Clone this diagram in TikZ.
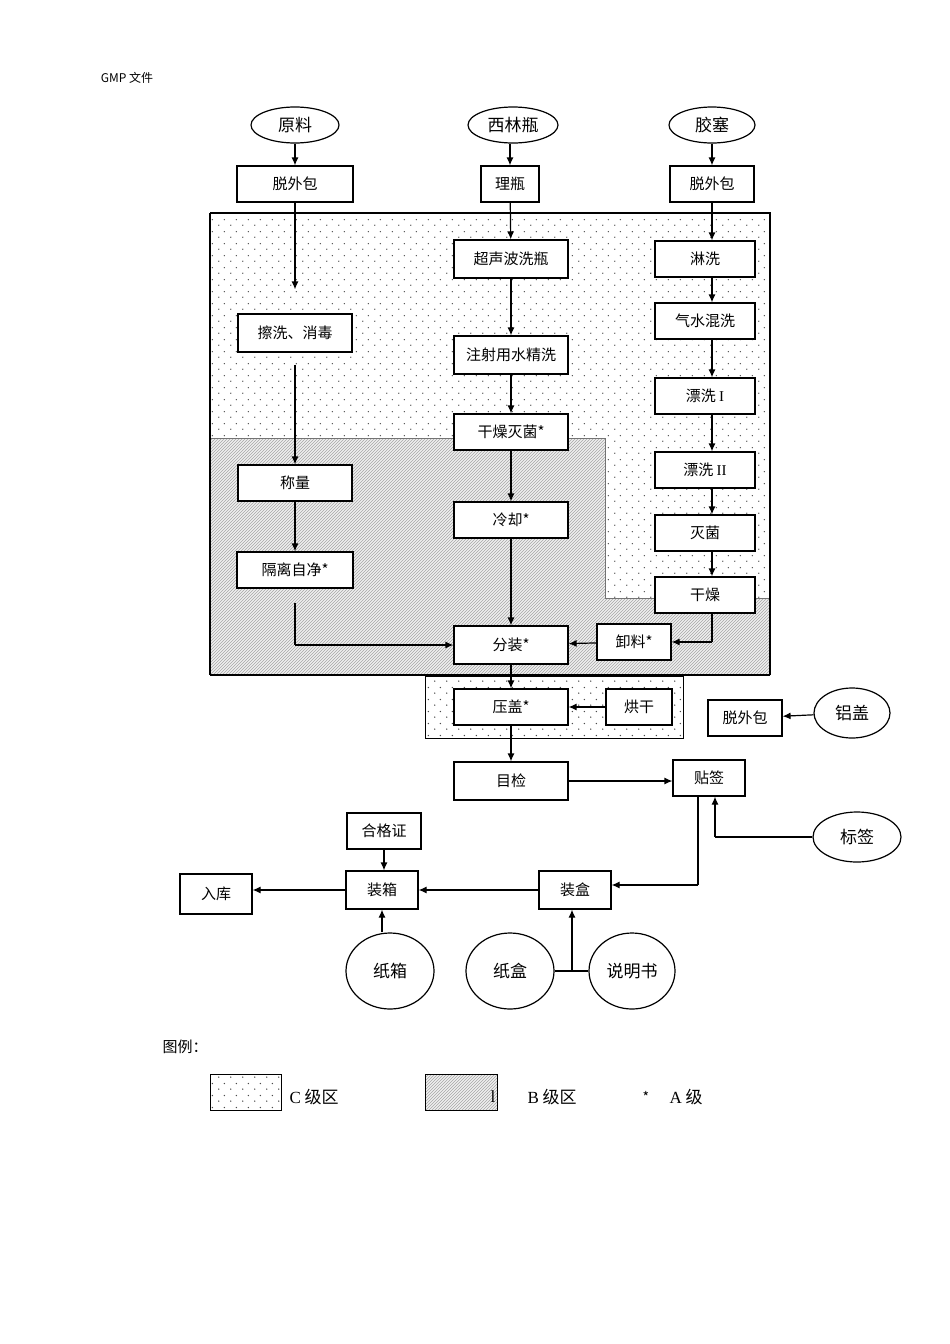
\documentclass[tikz,border=0pt]{standalone}
\usepackage{fontspec}
\setmainfont{Noto Sans CJK SC}
\newfontfamily\lat{Liberation Serif}
\usetikzlibrary{shapes.geometric,patterns,arrows.meta}
\pgfdeclarepatternformonly{sdots}{\pgfpointorigin}{\pgfpoint{12pt}{12pt}}{\pgfpoint{12pt}{12pt}}{%
\pgfpathcircle{\pgfpoint{3pt}{3pt}}{0.8pt}\pgfpathcircle{\pgfpoint{9pt}{9pt}}{0.8pt}\pgfusepath{fill}}
\begin{document}
\begin{tikzpicture}[x=1pt,y=-1pt,
 box/.style={draw,line width=1.2pt,fill=white,minimum height=36pt,inner sep=1pt,font=\fontsize{15}{17}\selectfont},
 ell/.style={draw,line width=1.2pt,ellipse,fill=white,font=\fontsize{17}{19}\selectfont},
 ar/.style={-{Latex[length=8pt,width=7pt]},line width=1.2pt},
 ln/.style={line width=1.2pt},
 cz/.style={pattern=sdots,pattern color=black!70},
 bz/.style={pattern=north east lines,pattern color=black!35}]
\useasboundingbox (0,0) rectangle (950,1344);
% zones
\fill[black!6] (210,438) rectangle (770,675);
\fill[bz] (210,438) rectangle (770,675);
\fill[white] (210,213) rectangle (770,438) (605,438) rectangle (770,598);
\fill[cz] (210,213) rectangle (770,438) (605,438) rectangle (770,598);
\draw[black!55,line width=1pt] (210,438) -- (605,438) -- (605,598) -- (770,598);
\draw[line width=1.2pt] (210,213) -- (770,213) -- (770,675) (210,213) -- (210,675);
\draw[line width=2pt] (210,675) -- (770,675);
\fill[cz] (425,676) rectangle (683,738);
\draw (425,676) rectangle (683,738);
% header
\node[font=\fontsize{12}{14}\selectfont] (hdr) at (127,78) {GMP 文件};
% top
\node[ell,minimum width=88pt,minimum height=36pt] (yl) at (295,125) {原料};
\node[ell,minimum width=90pt,minimum height=36pt] (xlp) at (513,125) {西林瓶};
\node[ell,minimum width=86pt,minimum height=36pt] (js) at (712,125) {胶塞};
\node[box,minimum width=116pt] (t1) at (295,184) {脱外包};
\node[box,minimum width=58pt] (t2) at (510,184) {理瓶};
\node[box,minimum width=84pt] (t3) at (712,184) {脱外包};
% middle column
\node[box,minimum width=114pt,minimum height=38pt] (c1) at (511,259) {超声波洗瓶};
\node[box,minimum width=114pt,minimum height=38pt] (c2) at (511,355) {注射用水精洗};
\node[box,minimum width=114pt] (c3) at (511,432) {干燥灭菌*};
\node[box,minimum width=114pt] (c4) at (511,520) {冷却*};
\node[box,minimum width=114pt,minimum height=38pt] (c5) at (511,645) {分装*};
\node[box,minimum width=114pt,minimum height=36pt] (c6) at (511,707) {压盖*};
\node[box,minimum width=114pt,minimum height=38pt] (c7) at (511,781) {目检};
% left column
\node[box,minimum width=114pt,minimum height=38pt] (l1) at (295,333) {擦洗、消毒};
\node[box,minimum width=114pt] (l2) at (295,483) {称量};
\node[box,minimum width=116pt] (l3) at (295,570) {隔离自净*};
% right column
\node[box,minimum width=100pt] (r1) at (705,259) {淋洗};
\node[box,minimum width=100pt] (r2) at (705,321) {气水混洗};
\node[box,minimum width=100pt] (r3) at (705,396) {漂洗 {\lat I}};
\node[box,minimum width=100pt] (r4) at (705,470) {漂洗 {\lat II}};
\node[box,minimum width=100pt] (r5) at (705,533) {灭菌};
\node[box,minimum width=100pt] (r6) at (705,595) {干燥};
\node[box,minimum width=74pt] (xl) at (634,642) {卸料*};
\node[box,minimum width=66pt] (hg) at (639,707) {烘干};
\node[box,minimum width=74pt] (t4) at (745,718) {脱外包};
\node[ell,minimum width=76pt,minimum height=50pt] (lg) at (852,713) {铝盖};
\node[box,minimum width=72pt] (tq) at (709,778) {贴签};
\node[ell,minimum width=88pt,minimum height=50pt] (bq) at (857,837) {标签};
\node[box,minimum width=74pt] (hgz) at (384,831) {合格证};
\node[box,minimum width=72pt,minimum height=38pt] (zx) at (382,890) {装箱};
\node[box,minimum width=72pt,minimum height=40pt] (rk) at (216,894) {入库};
\node[box,minimum width=72pt,minimum height=38pt] (zh) at (575,890) {装盒};
\node[ell,minimum width=88pt,minimum height=76pt] (zxx) at (390,971) {纸箱};
\node[ell,minimum width=88pt,minimum height=76pt] (zhh) at (510,971) {纸盒};
\node[ell,minimum width=86pt,minimum height=76pt] (sms) at (632,971) {说明书};
% arrows
\draw[ar] (yl) -- (t1);
\draw[ar] (xlp.south -| t2) -- (t2);
\draw[ar] (js) -- (t3);
\draw[ar,shorten >=24pt] (t1) -- (l1);
\draw[ar,shorten <=12pt] (l1) -- (l2);
\draw[ar] (l2) -- (l3);
\draw[ln] (l3.south) ++(0,14) coordinate (a) -- (a |- c5.west) coordinate (b);
\draw[ar] (b) -- (c5.west);
\draw[ar] (t2) -- (c1);
\draw[ar] (c1) -- (c2);
\draw[ar] (c2) -- (c3);
\draw[ar] (c3) -- (c4);
\draw[ar] (c4) -- (c5);
\draw[ar] (c5) -- (c6);
\draw[ar] (c6) -- (c7);
\draw[ar] (t3) -- (r1.north -| t3);
\draw[ar] (r1.south -| t3) -- (r2.north -| t3);
\draw[ar] (r2.south -| t3) -- (r3.north -| t3);
\draw[ar] (r3.south -| t3) -- (r4.north -| t3);
\draw[ar] (r4.south -| t3) -- (r5.north -| t3);
\draw[ar] (r5.south -| t3) -- (r6.north -| t3);
\draw[ln] (r6.south -| t3) -- (t3 |- xl.east) coordinate (d);
\draw[ar] (d) -- (xl.east);
\draw[ar] (xl) -- (c5);
\draw[ar] (hg) -- (c6);
\draw[ar] (lg) -- (t4);
\draw[ar] (c7.east) -- (tq.west |- c7.east);
\draw[ln] (bq.west) -- (715,837) coordinate (e);
\draw[ar] (e) -- (e |- tq.south);
\draw[ln] (698,796) coordinate (f) -- (698,885) coordinate (g);
\draw[ar] (g) -- (zh.east |- g);
\draw[ar] (zh) -- (zx);
\draw[ar] (zx) -- (rk.east |- zx);
\draw[ar] (hgz) -- (zx.north -| hgz);
\draw[ar] (zxx.north -| zx) -- (zx);
\draw[ln] (zhh.east) -- (sms.west);
\coordinate (h) at (572,971);
\draw[ar] (h) -- (h |- zh.south);
% legend
\node[font=\fontsize{15}{17}\selectfont] (tl) at (185,1047) {图例：};
\fill[cz] (210,1074) rectangle (281,1110);
\draw[line width=1pt] (210,1074) rectangle (281,1110);
\node[font=\fontsize{17}{19}\selectfont,anchor=west] (lc) at (286,1097) {{\lat C} 级区};
\fill[black!6] (425,1074) rectangle (497,1110);
\fill[bz] (425,1074) rectangle (497,1110);
\draw[line width=1pt] (425,1074) rectangle (497,1110);
\node[font=\fontsize{17}{19}\selectfont\lat] (li) at (493,1097) {l};
\node[font=\fontsize{17}{19}\selectfont,anchor=west] (lb) at (524,1097) {{\lat B} 级区};
\node[font=\fontsize{14}{16}\selectfont] (ls) at (646,1097) {*};
\node[font=\fontsize{17}{19}\selectfont,anchor=west] (la) at (666,1097) {{\lat A} 级};
\end{tikzpicture}
\end{document}
